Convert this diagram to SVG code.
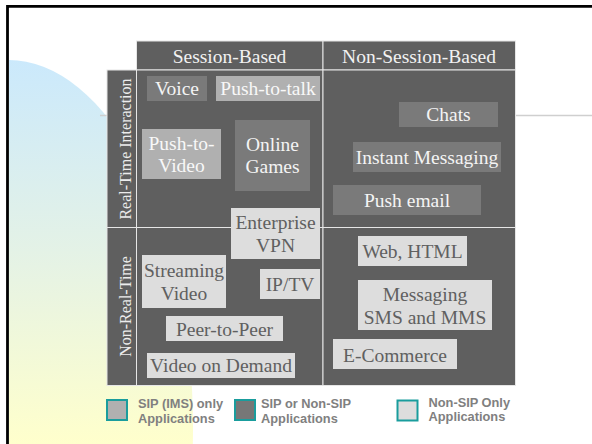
<svg xmlns="http://www.w3.org/2000/svg" width="592" height="444" viewBox="0 0 592 444">
<defs>
<linearGradient id="bg" x1="0" y1="60" x2="0" y2="444" gradientUnits="userSpaceOnUse">
<stop offset="0" stop-color="#cbe9fc"/>
<stop offset="0.5" stop-color="#e4f2e6"/>
<stop offset="1" stop-color="#ffffcc"/>
</linearGradient>
<clipPath id="clipL"><rect x="9" y="0" width="583" height="444"/></clipPath>
<style>
.cell{fill:#5f5f5f;stroke:#e6e6e6;stroke-width:1}
.hd{font-family:"Liberation Serif","Times New Roman",serif;font-size:19.5px;fill:#f2f2f2;text-anchor:middle}
.rh{font-family:"Liberation Serif","Times New Roman",serif;font-size:16px;fill:#ececec;text-anchor:middle}
.t{font-family:"Liberation Serif","Times New Roman",serif;font-size:19.5px;text-anchor:middle}
.mid rect{fill:#7a7a7a}
.mid text{fill:#f4f4f4}
.lt rect{fill:#b0b0b0}
.lt text{fill:#f8f8f8}
.pale rect{fill:#dddddd}
.pale text{fill:#606060}
.lg{stroke:#1a9d9d;stroke-width:2}
.lgt{font-family:"Liberation Sans",Arial,sans-serif;font-size:12.8px;font-weight:bold;fill:#808080}
</style>
</defs>
<rect width="592" height="444" fill="#ffffff"/>
<ellipse cx="8" cy="427" rx="185" ry="367" fill="url(#bg)" clip-path="url(#clipL)"/>
<line x1="100" y1="115.5" x2="592" y2="115.5" stroke="#cfcfcf" stroke-width="1.5"/>
<path d="M7.5,444 V6.3 H592" fill="none" stroke="#000" stroke-width="2.8"/>

<g id="table">
<rect class="cell" x="136.5" y="41" width="186.5" height="29"/>
<rect class="cell" x="323" y="41" width="192.5" height="29"/>
<rect class="cell" x="107" y="70" width="29.5" height="157.5"/>
<rect class="cell" x="107" y="227.5" width="29.5" height="158"/>
<rect class="cell" x="136.5" y="70" width="186.5" height="157.5"/>
<rect class="cell" x="323" y="70" width="192.5" height="157.5"/>
<rect class="cell" x="136.5" y="227.5" width="186.5" height="158"/>
<rect class="cell" x="323" y="227.5" width="192.5" height="158"/>
<text class="hd" x="229.5" y="63">Session-Based</text>
<text class="hd" x="419" y="63">Non-Session-Based</text>
<text class="rh" transform="translate(130.5,149) rotate(-90)">Real-Time Interaction</text>
<text class="rh" transform="translate(130.5,306.5) rotate(-90)">Non-Real-Time</text>
</g>

<g id="connectors"></g>

<g id="voice" class="mid"><rect x="147" y="76" width="60" height="25"/><text class="t" x="177" y="95">Voice</text></g>
<g id="push-to-talk" class="lt"><rect x="216" y="76" width="104" height="25"/><text class="t" x="268" y="95">Push-to-talk</text></g>
<g id="push-to-video" class="lt"><rect x="142" y="129" width="79" height="50"/><text class="t" x="181.5" y="150">Push-to-</text><text class="t" x="181.5" y="172">Video</text></g>
<g id="online-games" class="mid"><rect x="235" y="120" width="75" height="71"/><text class="t" x="272.5" y="151">Online</text><text class="t" x="272.5" y="173">Games</text></g>
<g id="enterprise-vpn" class="pale"><rect x="231" y="208" width="89" height="51"/><text class="t" x="275.5" y="229">Enterprise</text><text class="t" x="275.5" y="252">VPN</text></g>
<g id="streaming-video" class="pale"><rect x="142" y="255" width="84" height="53"/><text class="t" x="184" y="277">Streaming</text><text class="t" x="184" y="300">Video</text></g>
<g id="iptv" class="pale"><rect x="260" y="269" width="60" height="30"/><text class="t" x="290" y="291">IP/TV</text></g>
<g id="peer-to-peer" class="pale"><rect x="166" y="316" width="117" height="25"/><text class="t" x="224.5" y="335.5">Peer-to-Peer</text></g>
<g id="video-on-demand" class="pale"><rect x="147" y="353" width="148" height="25"/><text class="t" x="221" y="371.5">Video on Demand</text></g>
<g id="chats" class="mid"><rect x="399" y="102" width="99" height="25"/><text class="t" x="448.5" y="120.5">Chats</text></g>
<g id="instant-messaging" class="mid"><rect x="353" y="142" width="148" height="30"/><text class="t" x="427" y="163.5">Instant Messaging</text></g>
<g id="push-email" class="mid"><rect x="333" y="185" width="148" height="30"/><text class="t" x="407" y="206.5">Push email</text></g>
<g id="web-html" class="pale"><rect x="358" y="236" width="109" height="30"/><text class="t" x="412.5" y="257.5">Web, HTML</text></g>
<g id="messaging" class="pale"><rect x="358" y="280" width="134" height="50"/><text class="t" x="425" y="301">Messaging</text><text class="t" x="425" y="324">SMS and MMS</text></g>
<g id="e-commerce" class="pale"><rect x="333" y="339" width="124" height="30"/><text class="t" x="395" y="361.5">E-Commerce</text></g>

<g id="legend">
<rect class="lg" x="107" y="400" width="20" height="20" fill="#b0b0b0"/>
<text class="lgt" x="138" y="408">SIP (IMS) only</text>
<text class="lgt" x="138" y="423">Applications</text>
<rect class="lg" x="235" y="400" width="20" height="20" fill="#777777"/>
<text class="lgt" x="261" y="408">SIP or Non-SIP</text>
<text class="lgt" x="261" y="423">Applications</text>
<rect class="lg" x="397.5" y="400.5" width="20" height="20" fill="#dddddd"/>
<text class="lgt" x="428.5" y="406.5">Non-SIP Only</text>
<text class="lgt" x="428.5" y="421">Applications</text>
</g>
</svg>
